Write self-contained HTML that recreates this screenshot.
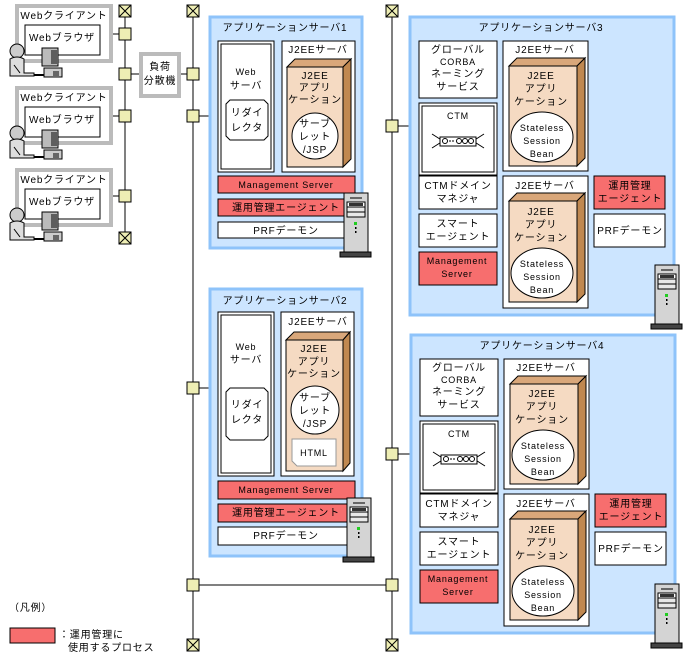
<!DOCTYPE html>
<html><head><meta charset="utf-8"><style>
html,body{margin:0;padding:0;background:#fff;width:688px;height:669px;overflow:hidden}
svg{display:block}
text{font-family:"Liberation Sans","Noto Sans CJK JP",sans-serif;font-size:10px;fill:#000;text-anchor:middle;letter-spacing:0.8px}
</style></head><body>
<svg width="688" height="669" viewBox="0 0 688 669" xmlns="http://www.w3.org/2000/svg">
<defs>
<g id="term"><rect x="-6" y="-6" width="12" height="12" fill="#EEEEB4" stroke="#000"/><path d="M-6 -6L6 6M6 -6L-6 6" stroke="#000"/></g>
<g id="conn"><rect x="-6" y="-6" width="12" height="12" fill="#EEEEB4" stroke="#000"/></g>
<g id="mach">
<rect x="0" y="0" width="24" height="60" fill="#D4D4D4" stroke="#000"/>
<rect x="6" y="4" width="12" height="2" fill="#666"/>
<rect x="3" y="9" width="18" height="5" fill="#fff" stroke="#000"/>
<rect x="5" y="10" width="14" height="3" fill="#333"/>
<rect x="3" y="14" width="18" height="5" fill="#E8E8E8" stroke="#000"/>
<rect x="3" y="19" width="18" height="5" fill="#E8E8E8" stroke="#000"/>
<rect x="10" y="29" width="3" height="3" fill="#2c2"/>
<rect x="11" y="34" width="1.5" height="2" fill="#000"/><rect x="11" y="38" width="1.5" height="2" fill="#000"/>
<rect x="-4" y="59" width="31" height="5" fill="#444" stroke="#000"/>
</g>
<g id="person">
<circle cx="9" cy="8" r="7" fill="#ccc" stroke="#000"/>
<path d="M2 16 Q9 12 16 16 L16 30 L26 30 L26 33 L2 33 Z" fill="#ddd" stroke="#000"/>
<path d="M6 22 L12 30" stroke="#000" fill="none"/>
<rect x="26" y="31" width="10" height="2" fill="#000"/>
<rect x="34" y="5" width="16" height="18" fill="#bbb" stroke="#000"/>
<path d="M44 7v14M46 7v14M48 7v14" stroke="#000"/>
<rect x="36" y="25" width="18" height="9" fill="#ccc" stroke="#000"/>
<path d="M46 28v5M48 28v5M50 28v5" stroke="#000"/>
</g>
</defs>

<!-- buses -->
<line x1="125" y1="12" x2="125" y2="238" stroke="#000"/>
<line x1="193" y1="12" x2="193" y2="645" stroke="#000"/>
<line x1="392" y1="12" x2="392" y2="645" stroke="#000"/>
<line x1="193" y1="585" x2="392" y2="585" stroke="#000"/>
<line x1="112" y1="34" x2="125" y2="34" stroke="#000"/>
<line x1="112" y1="116" x2="125" y2="116" stroke="#000"/>
<line x1="112" y1="196" x2="125" y2="196" stroke="#000"/>
<line x1="125" y1="74" x2="139" y2="74" stroke="#000"/>
<line x1="181" y1="74" x2="193" y2="74" stroke="#000"/>
<line x1="193" y1="116" x2="209" y2="116" stroke="#000"/>
<line x1="193" y1="388" x2="209" y2="388" stroke="#000"/>
<line x1="392" y1="126" x2="409" y2="126" stroke="#000"/>
<line x1="392" y1="454" x2="411" y2="454" stroke="#000"/>
<use href="#term" x="125" y="11"/><use href="#term" x="125" y="238"/>
<use href="#term" x="193" y="11"/><use href="#term" x="193" y="645"/>
<use href="#term" x="392" y="11"/><use href="#term" x="392" y="645"/>
<use href="#conn" x="125" y="34"/><use href="#conn" x="125" y="74"/><use href="#conn" x="125" y="116"/><use href="#conn" x="125" y="196"/>
<use href="#conn" x="193" y="74"/><use href="#conn" x="193" y="116"/><use href="#conn" x="193" y="388"/><use href="#conn" x="193" y="585"/>
<use href="#conn" x="392" y="126"/><use href="#conn" x="392" y="454"/><use href="#conn" x="392" y="585"/>

<!-- load balancer -->
<rect x="141" y="54" width="38" height="42" fill="#fff" stroke="#BBB" stroke-width="4"/>
<text x="160" y="70">負荷</text><text x="160" y="84">分散機</text>

<!-- web clients -->
<g>
<rect x="17" y="6" width="94" height="55" fill="#fff" stroke="#BBB" stroke-width="4"/>
<text x="64" y="19">Webクライアント</text>
<rect x="25" y="25" width="75" height="30" fill="#fff" stroke="#000"/>
<text x="62" y="41">Webブラウザ</text>
<use href="#person" x="8" y="43"/>
</g>
<g transform="translate(0,82)">
<rect x="17" y="6" width="94" height="55" fill="#fff" stroke="#BBB" stroke-width="4"/>
<text x="64" y="19">Webクライアント</text>
<rect x="25" y="25" width="75" height="30" fill="#fff" stroke="#000"/>
<text x="62" y="41">Webブラウザ</text>
<use href="#person" x="8" y="43"/>
</g>
<g transform="translate(0,164)">
<rect x="17" y="6" width="94" height="55" fill="#fff" stroke="#BBB" stroke-width="4"/>
<text x="64" y="19">Webクライアント</text>
<rect x="25" y="25" width="75" height="30" fill="#fff" stroke="#000"/>
<text x="62" y="41">Webブラウザ</text>
<use href="#person" x="8" y="43"/>
</g>

<!-- Server 1 -->
<rect x="210" y="17" width="152" height="231" fill="#CCE5FF" stroke="#8EC3FA" stroke-width="3"/>
<text x="285" y="31">アプリケーションサーバ1</text>
<rect x="218" y="41" width="56" height="131" fill="#fff" stroke="#000"/>
<rect x="221" y="44" width="50" height="125" fill="none" stroke="#000"/>
<text x="246" y="75" style="font-size:9px">Web</text><text x="246" y="89">サーバ</text>
<path d="M230 100H264L268 104V136L264 140H230L226 136V104Z" fill="#fff" stroke="#000"/>
<text x="247" y="116">リダイ</text><text x="247" y="131">レクタ</text>
<rect x="282" y="41" width="73" height="131" fill="#fff" stroke="#000"/>
<text x="318" y="53">J2EEサーバ</text>
<path d="M287 67L295 59H351L343 67Z" fill="#D9A77A" stroke="#000"/>
<path d="M343 67L351 59V159L343 167Z" fill="#C08850" stroke="#000"/>
<rect x="287" y="67" width="56" height="100" fill="#F5DAC2" stroke="#000"/>
<text x="315" y="79">J2EE</text><text x="315" y="91">アプリ</text><text x="315" y="103">ケーション</text>
<ellipse cx="315" cy="136" rx="23" ry="23" fill="#fff" stroke="#000"/>
<text x="315" y="127">サーブ</text><text x="315" y="140">レット</text><text x="315" y="153">/JSP</text>
<rect x="218" y="176" width="137" height="17" fill="#F76E6E" stroke="#000"/>
<text x="286" y="188" style="font-size:9px">Management Server</text>
<rect x="218" y="199" width="137" height="17" fill="#F76E6E" stroke="#000"/>
<text x="286" y="211">運用管理エージェント</text>
<rect x="218" y="222" width="137" height="16" fill="#fff" stroke="#000"/>
<text x="286" y="234">PRFデーモン</text>
<use href="#mach" x="344" y="193"/>

<!-- Server 2 -->
<rect x="210" y="289" width="152" height="267" fill="#CCE5FF" stroke="#8EC3FA" stroke-width="3"/>
<text x="285" y="304">アプリケーションサーバ2</text>
<rect x="218" y="312" width="56" height="164" fill="#fff" stroke="#000"/>
<rect x="221" y="315" width="50" height="158" fill="none" stroke="#000"/>
<text x="246" y="350" style="font-size:9px">Web</text><text x="246" y="363">サーバ</text>
<path d="M230 388H264L268 392V436L264 440H230L226 436V392Z" fill="#fff" stroke="#000"/>
<text x="247" y="408">リダイ</text><text x="247" y="423">レクタ</text>
<rect x="281" y="312" width="73" height="164" fill="#fff" stroke="#000"/>
<text x="318" y="325">J2EEサーバ</text>
<path d="M286 340L294 332H350L343 340Z" fill="#D9A77A" stroke="#000"/>
<path d="M343 340L350 332V463L343 471Z" fill="#C08850" stroke="#000"/>
<rect x="286" y="340" width="57" height="131" fill="#F5DAC2" stroke="#000"/>
<text x="314" y="352">J2EE</text><text x="314" y="365">アプリ</text><text x="314" y="377">ケーション</text>
<ellipse cx="315" cy="410" rx="24" ry="24" fill="#fff" stroke="#000"/>
<text x="315" y="401">サーブ</text><text x="315" y="414">レット</text><text x="315" y="427">/JSP</text>
<path d="M292 439H336V466H297L292 461Z" fill="#fff" stroke="#999"/>
<text x="314" y="456" style="font-size:9px">HTML</text>
<rect x="218" y="481" width="137" height="18" fill="#F76E6E" stroke="#000"/>
<text x="286" y="493" style="font-size:9px">Management Server</text>
<rect x="218" y="504" width="137" height="18" fill="#F76E6E" stroke="#000"/>
<text x="286" y="516">運用管理エージェント</text>
<rect x="218" y="527" width="137" height="18" fill="#fff" stroke="#000"/>
<text x="286" y="539">PRFデーモン</text>
<use href="#mach" x="347" y="498"/>

<!-- Server 3 -->
<g>
<rect x="410" y="17" width="264" height="298" fill="#CCE5FF" stroke="#8EC3FA" stroke-width="3"/>
<text x="541" y="31">アプリケーションサーバ3</text>
<rect x="419" y="41" width="78" height="57" fill="#fff" stroke="#000"/>
<text x="458" y="53">グローバル</text><text x="458" y="65" style="font-size:9px">CORBA</text><text x="458" y="77">ネーミング</text><text x="458" y="90">サービス</text>
<rect x="419" y="103" width="78" height="72" fill="#fff" stroke="#000"/>
<rect x="422" y="106" width="72" height="66" fill="none" stroke="#000"/>
<text x="458" y="119" style="font-size:9px">CTM</text>
<path d="M432 134L443 141M432 148L443 141M484 134L473 141M484 148L473 141" stroke="#000" fill="none"/>
<rect x="440" y="137" width="36" height="9" fill="#fff" stroke="#000"/>
<circle cx="445" cy="141" r="2.5" fill="#fff" stroke="#000"/><path d="M449 141h6" stroke="#000" stroke-dasharray="2 1"/>
<circle cx="459" cy="141" r="2.5" fill="#fff" stroke="#000"/><circle cx="465" cy="141" r="2.5" fill="#fff" stroke="#000"/><circle cx="471" cy="141" r="2.5" fill="#fff" stroke="#000"/>
<rect x="503" y="41" width="85" height="130" fill="#fff" stroke="#000"/>
<text x="545" y="53">J2EEサーバ</text>
<path d="M509 66L517 58H585L577 66Z" fill="#D9A77A" stroke="#000"/>
<path d="M577 66L585 58V158L577 166Z" fill="#C08850" stroke="#000"/>
<rect x="509" y="66" width="68" height="100" fill="#F5DAC2" stroke="#000"/>
<text x="541" y="79">J2EE</text><text x="541" y="92">アプリ</text><text x="541" y="105">ケーション</text>
<ellipse cx="542" cy="137" rx="31" ry="25" fill="#fff" stroke="#000"/>
<text x="542" y="131" style="font-size:9px">Stateless</text><text x="542" y="144" style="font-size:9px">Session</text><text x="542" y="157" style="font-size:9px">Bean</text>
<rect x="419" y="176" width="78" height="33" fill="#fff" stroke="#000"/>
<text x="458" y="189">CTMドメイン</text><text x="458" y="202">マネジャ</text>
<rect x="419" y="214" width="78" height="33" fill="#fff" stroke="#000"/>
<text x="458" y="227">スマート</text><text x="458" y="240">エージェント</text>
<rect x="419" y="252" width="78" height="33" fill="#F76E6E" stroke="#000"/>
<text x="457" y="264" style="font-size:9px">Management</text><text x="457" y="277" style="font-size:9px">Server</text>
<rect x="503" y="176" width="85" height="132" fill="#fff" stroke="#000"/>
<text x="545" y="189">J2EEサーバ</text>
<path d="M509 201L517 193H585L577 201Z" fill="#D9A77A" stroke="#000"/>
<path d="M577 201L585 193V294L577 302Z" fill="#C08850" stroke="#000"/>
<rect x="509" y="201" width="68" height="101" fill="#F5DAC2" stroke="#000"/>
<text x="541" y="215">J2EE</text><text x="541" y="228">アプリ</text><text x="541" y="241">ケーション</text>
<ellipse cx="542" cy="273" rx="31" ry="25" fill="#fff" stroke="#000"/>
<text x="542" y="267" style="font-size:9px">Stateless</text><text x="542" y="280" style="font-size:9px">Session</text><text x="542" y="293" style="font-size:9px">Bean</text>
<rect x="594" y="176" width="71" height="33" fill="#F76E6E" stroke="#000"/>
<text x="630" y="189">運用管理</text><text x="630" y="202">エージェント</text>
<rect x="594" y="214" width="71" height="33" fill="#fff" stroke="#000"/>
<text x="630" y="234">PRFデーモン</text>
<use href="#mach" x="655" y="265"/>
</g>

<!-- Server 4 -->
<g transform="translate(1,318)">
<rect x="410" y="17" width="264" height="298" fill="#CCE5FF" stroke="#8EC3FA" stroke-width="3"/>
<text x="541" y="31">アプリケーションサーバ4</text>
<rect x="419" y="41" width="78" height="57" fill="#fff" stroke="#000"/>
<text x="458" y="53">グローバル</text><text x="458" y="65" style="font-size:9px">CORBA</text><text x="458" y="77">ネーミング</text><text x="458" y="90">サービス</text>
<rect x="419" y="103" width="78" height="72" fill="#fff" stroke="#000"/>
<rect x="422" y="106" width="72" height="66" fill="none" stroke="#000"/>
<text x="458" y="119" style="font-size:9px">CTM</text>
<path d="M432 134L443 141M432 148L443 141M484 134L473 141M484 148L473 141" stroke="#000" fill="none"/>
<rect x="440" y="137" width="36" height="9" fill="#fff" stroke="#000"/>
<circle cx="445" cy="141" r="2.5" fill="#fff" stroke="#000"/><path d="M449 141h6" stroke="#000" stroke-dasharray="2 1"/>
<circle cx="459" cy="141" r="2.5" fill="#fff" stroke="#000"/><circle cx="465" cy="141" r="2.5" fill="#fff" stroke="#000"/><circle cx="471" cy="141" r="2.5" fill="#fff" stroke="#000"/>
<rect x="503" y="41" width="85" height="130" fill="#fff" stroke="#000"/>
<text x="545" y="53">J2EEサーバ</text>
<path d="M509 66L517 58H585L577 66Z" fill="#D9A77A" stroke="#000"/>
<path d="M577 66L585 58V158L577 166Z" fill="#C08850" stroke="#000"/>
<rect x="509" y="66" width="68" height="100" fill="#F5DAC2" stroke="#000"/>
<text x="541" y="79">J2EE</text><text x="541" y="92">アプリ</text><text x="541" y="105">ケーション</text>
<ellipse cx="542" cy="137" rx="31" ry="25" fill="#fff" stroke="#000"/>
<text x="542" y="131" style="font-size:9px">Stateless</text><text x="542" y="144" style="font-size:9px">Session</text><text x="542" y="157" style="font-size:9px">Bean</text>
<rect x="419" y="176" width="78" height="33" fill="#fff" stroke="#000"/>
<text x="458" y="189">CTMドメイン</text><text x="458" y="202">マネジャ</text>
<rect x="419" y="214" width="78" height="33" fill="#fff" stroke="#000"/>
<text x="458" y="227">スマート</text><text x="458" y="240">エージェント</text>
<rect x="419" y="252" width="78" height="33" fill="#F76E6E" stroke="#000"/>
<text x="457" y="264" style="font-size:9px">Management</text><text x="457" y="277" style="font-size:9px">Server</text>
<rect x="503" y="176" width="85" height="132" fill="#fff" stroke="#000"/>
<text x="545" y="189">J2EEサーバ</text>
<path d="M509 201L517 193H585L577 201Z" fill="#D9A77A" stroke="#000"/>
<path d="M577 201L585 193V294L577 302Z" fill="#C08850" stroke="#000"/>
<rect x="509" y="201" width="68" height="101" fill="#F5DAC2" stroke="#000"/>
<text x="541" y="215">J2EE</text><text x="541" y="228">アプリ</text><text x="541" y="241">ケーション</text>
<ellipse cx="542" cy="273" rx="31" ry="25" fill="#fff" stroke="#000"/>
<text x="542" y="267" style="font-size:9px">Stateless</text><text x="542" y="280" style="font-size:9px">Session</text><text x="542" y="293" style="font-size:9px">Bean</text>
<rect x="594" y="176" width="71" height="33" fill="#F76E6E" stroke="#000"/>
<text x="630" y="189">運用管理</text><text x="630" y="202">エージェント</text>
<rect x="594" y="214" width="71" height="33" fill="#fff" stroke="#000"/>
<text x="630" y="234">PRFデーモン</text>
<use href="#mach" x="654" y="266"/>
</g>

<!-- legend -->
<text x="9" y="611" style="text-anchor:start">（凡例）</text>
<rect x="10" y="628" width="45" height="15" fill="#F76E6E" stroke="#000"/>
<text x="59" y="638" style="text-anchor:start">：運用管理に</text>
<text x="68" y="651" style="text-anchor:start">使用するプロセス</text>
</svg>
</body></html>
